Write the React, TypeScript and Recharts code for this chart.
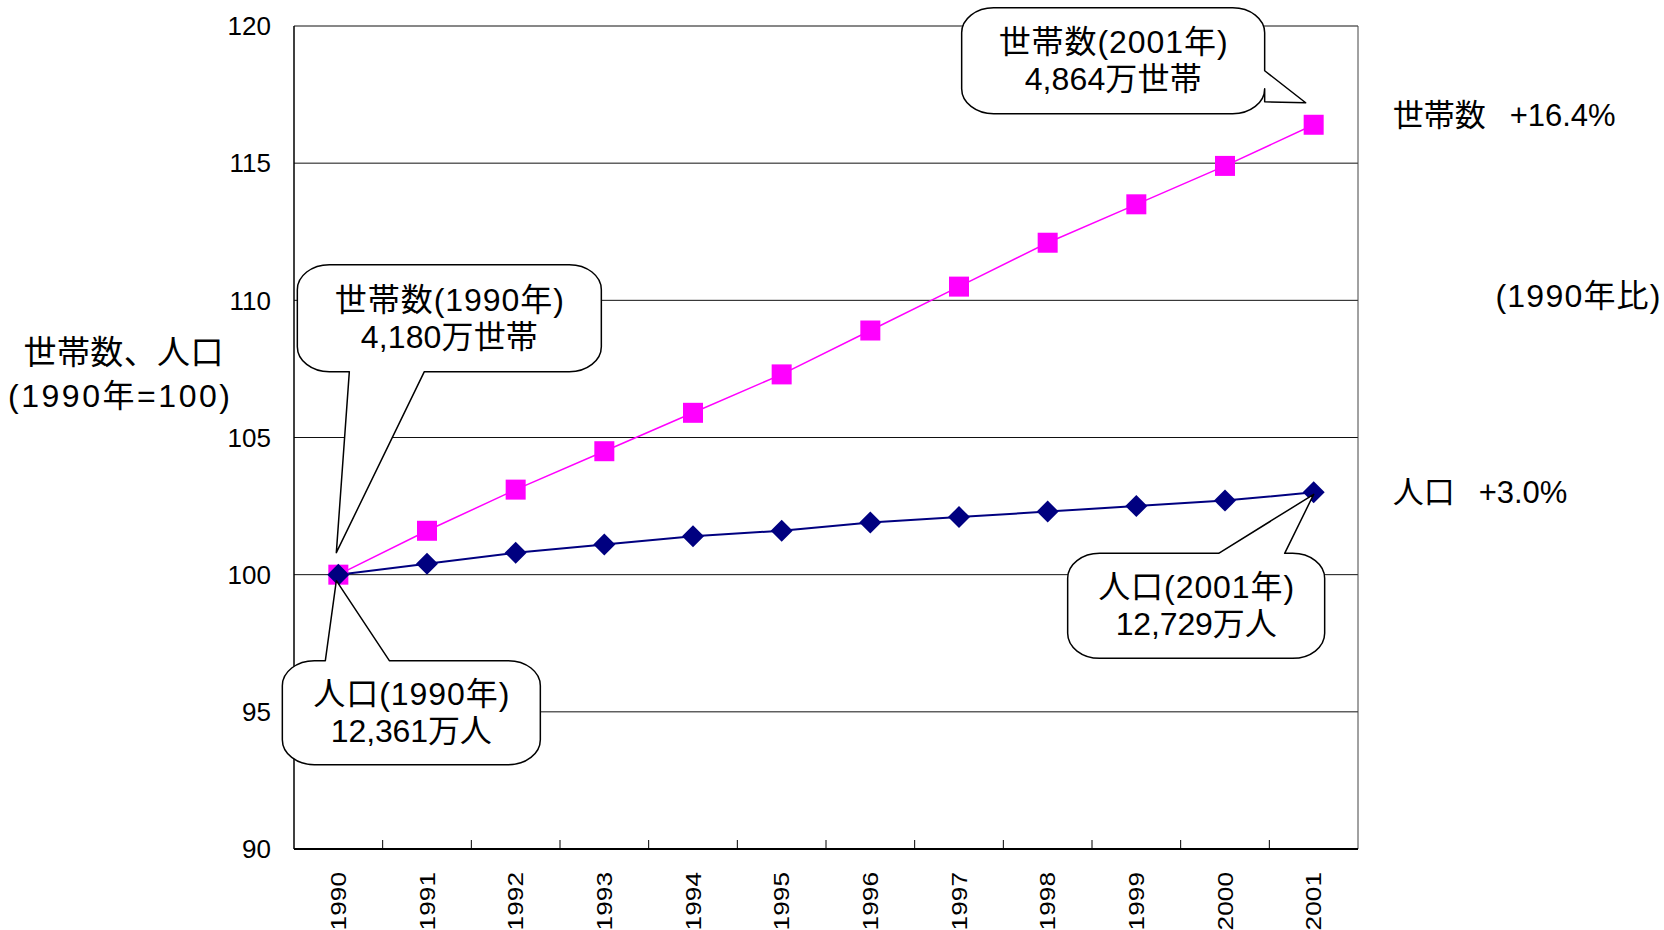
import React from "react";
import { LineChart, Line, XAxis, YAxis, CartesianGrid, ReferenceDot } from "recharts";

const years = ["1990", "1991", "1992", "1993", "1994", "1995", "1996", "1997", "1998", "1999", "2000", "2001"];
// index, 1990 = 100
const households = [100, 101.6, 103.1, 104.5, 105.9, 107.3, 108.9, 110.5, 112.1, 113.5, 114.9, 116.4];
const population = [100, 100.4, 100.8, 101.1, 101.4, 101.6, 101.9, 102.1, 102.3, 102.5, 102.7, 103.0];
const yTicks = [90, 95, 100, 105, 110, 115, 120];
// 1990 and 2001 totals (万世帯 / 万人)
const householdCounts = [4180, 4864];
const populationCounts = [12361, 12729];

const data = years.map((year, i) => ({ year, households: households[i], population: population[i] }));

const W = 1664;
const H = 930;
const MARGIN = { top: 26, right: 306, bottom: 0, left: 214 };
const Y_AXIS_W = 80;
const X_AXIS_H = 81;
const PLOT_W = W - MARGIN.left - Y_AXIS_W - MARGIN.right;
const BAND = PLOT_W / years.length;

const FONT = '"Liberation Sans", "Noto Sans CJK JP", sans-serif';
const MAGENTA = "#ff00ff";
const NAVY = "#000080";

const last = years.length - 1;
const fmt = (n: number) => n.toLocaleString("en-US");
const growth = (arr: number[]) => `+${(arr[last] - arr[0]).toFixed(1)}%`;

type Side = "top" | "bottom" | "right";
interface CalloutSpec {
  box: [number, number, number, number]; // dx, dy, w, h from the point
  side: Side;
  base: [number, number];
  tip: [number, number];
  lines: string[];
  widths: number[];
}

function calloutPath(cx: number, cy: number, s: CalloutSpec) {
  const [dx, dy, w, h] = s.box;
  const x = cx + dx;
  const y = cy + dy;
  const rx = 32;
  const ry = 25;
  const tx = cx + s.tip[0];
  const ty = cy + s.tip[1];
  let d = `M${x + rx},${y}`;
  if (s.side === "top") d += ` L${cx + s.base[0]},${y} L${tx},${ty} L${cx + s.base[1]},${y}`;
  d += ` L${x + w - rx},${y} A${rx},${ry} 0 0 1 ${x + w},${y + ry}`;
  if (s.side === "right") d += ` L${x + w},${cy + s.base[0]} L${tx},${ty} L${x + w},${cy + s.base[1]}`;
  d += ` L${x + w},${y + h - ry} A${rx},${ry} 0 0 1 ${x + w - rx},${y + h}`;
  if (s.side === "bottom") d += ` L${cx + s.base[1]},${y + h} L${tx},${ty} L${cx + s.base[0]},${y + h}`;
  d += ` L${x + rx},${y + h} A${rx},${ry} 0 0 1 ${x},${y + h - ry} L${x},${y + ry} A${rx},${ry} 0 0 1 ${x + rx},${y} Z`;
  return d;
}

function Callout({ cx, cy, spec }: { cx: number; cy: number; spec: CalloutSpec }) {
  const [dx, dy, w, h] = spec.box;
  const mx = cx + dx + w / 2;
  const my = cy + dy + h / 2;
  return (
    <g>
      <path d={calloutPath(cx, cy, spec)} fill="#fff" stroke="#000" strokeWidth={1.5} strokeLinejoin="round" />
      {spec.lines.map((t, i) => (
        <text
          key={i}
          x={mx}
          y={my + (i === 0 ? -18.5 : 18.5)}
          textAnchor="middle"
          dominantBaseline="central"
          fontSize={32}
          fontFamily={FONT}
          fill="#000"
          textLength={spec.widths[i]}
          lengthAdjust="spacing"
        >
          {t}
        </text>
      ))}
    </g>
  );
}

const callouts: { series: "households" | "population"; idx: number; spec: CalloutSpec }[] = [
  {
    series: "households",
    idx: 0,
    spec: {
      box: [-41, -310, 304, 107],
      side: "bottom",
      base: [11, 86],
      tip: [-2, -22],
      lines: [`世帯数(${years[0]}年)`, `${fmt(householdCounts[0])}万世帯`],
      widths: [229, 177],
    },
  },
  {
    series: "population",
    idx: 0,
    spec: {
      box: [-56, 86, 258, 104],
      side: "top",
      base: [-13, 51],
      tip: [-2, 6],
      lines: [`人口(${years[0]}年)`, `${fmt(populationCounts[0])}万人`],
      widths: [196, 161],
    },
  },
  {
    series: "households",
    idx: last,
    spec: {
      box: [-352, -117, 303, 106],
      side: "right",
      base: [-54, -23],
      tip: [-8, -22],
      lines: [`世帯数(${years[last]}年)`, `${fmt(householdCounts[1])}万世帯`],
      widths: [229, 177],
    },
  },
  {
    series: "population",
    idx: last,
    spec: {
      box: [-246, 61, 257, 105],
      side: "top",
      base: [-95, -29],
      tip: [0, 2],
      lines: [`人口(${years[last]}年)`, `${fmt(populationCounts[1])}万人`],
      widths: [196, 161],
    },
  },
];

const SquareDot = ({ cx, cy }: { cx: number; cy: number }) => (
  <rect x={cx - 10} y={cy - 10} width={20} height={20} fill={MAGENTA} />
);

const DiamondDot = ({ cx, cy }: { cx: number; cy: number }) => (
  <path d={`M${cx},${cy - 11} L${cx + 11},${cy} L${cx},${cy + 11} L${cx - 11},${cy} Z`} fill={NAVY} />
);

const XTick = (props: any) => {
  const { x, y, payload, index } = props;
  return (
    <g>
      {index > 0 && <line x1={x - BAND / 2} x2={x - BAND / 2} y1={y} y2={y - 9} stroke="#000" strokeWidth={1} />}
      <text
        transform={`translate(${x},${y + 23}) rotate(-90) scale(1.05,0.9)`}
        textAnchor="end"
        dominantBaseline="central"
        fontSize={25}
        fontFamily={FONT}
        fill="#000"
      >
        {payload.value}
      </text>
    </g>
  );
};

// series name + change since 1990, written to the right of the last point
const EndLabel = ({ cx, cy, dy, name, value }: { cx: number; cy: number; dy: number; name: string; value: string }) => (
  <text x={cx + 79} y={cy + dy} dominantBaseline="central" fontSize={31} fontFamily={FONT} fill="#000">
    <tspan>{name}</tspan>
    <tspan dx={24}>{value}</tspan>
  </text>
);

const seriesValues = { households, population };

export default function App() {
  return (
    <div style={{ position: "absolute", left: 0, top: 0, width: W, height: H, background: "#fff" }}>
      <LineChart width={W} height={H} data={data} margin={MARGIN}>
        <CartesianGrid vertical={false} stroke="#111" strokeWidth={1} />
        <CartesianGrid
          horizontal={false}
          stroke="#444"
          strokeWidth={1}
          verticalCoordinatesGenerator={({ offset }: any) => [offset.left + offset.width]}
        />
        <XAxis
          dataKey="year"
          interval={0}
          height={X_AXIS_H}
          padding={{ left: BAND / 2, right: BAND / 2 }}
          tickLine={false}
          tickSize={0}
          tickMargin={0}
          axisLine={{ stroke: "#000", strokeWidth: 2 }}
          tick={<XTick />}
        />
        <YAxis
          width={Y_AXIS_W}
          domain={[90, 120]}
          ticks={yTicks}
          interval={0}
          tickLine={false}
          tickSize={0}
          tickMargin={23}
          axisLine={{ stroke: "#000", strokeWidth: 1.5 }}
          tick={{ fontSize: 26, fill: "#000", fontFamily: FONT }}
        />
        <Line
          dataKey="households"
          stroke={MAGENTA}
          strokeWidth={1.5}
          isAnimationActive={false}
          activeDot={false}
          dot={(p: any) => <SquareDot key={`h-${p.index}`} cx={p.cx} cy={p.cy} />}
        />
        <Line
          dataKey="population"
          stroke={NAVY}
          strokeWidth={2}
          isAnimationActive={false}
          activeDot={false}
          dot={(p: any) => <DiamondDot key={`p-${p.index}`} cx={p.cx} cy={p.cy} />}
        />
        {callouts.map((c, i) => (
          <ReferenceDot
            key={`c-${i}`}
            x={years[c.idx]}
            y={seriesValues[c.series][c.idx]}
            r={0}
            ifOverflow="visible"
            shape={(p: any) => <Callout cx={p.cx} cy={p.cy} spec={c.spec} />}
          />
        ))}
        <ReferenceDot
          x={years[last]}
          y={households[last]}
          r={0}
          ifOverflow="visible"
          shape={(p: any) => <EndLabel cx={p.cx} cy={p.cy} dy={-10} name="世帯数" value={growth(households)} />}
        />
        <ReferenceDot
          x={years[last]}
          y={population[last]}
          r={0}
          ifOverflow="visible"
          shape={(p: any) => <EndLabel cx={p.cx} cy={p.cy} dy={0} name="人口" value={growth(population)} />}
        />
      </LineChart>
      <svg
        width={W}
        height={H}
        style={{ position: "absolute", left: 0, top: 0, pointerEvents: "none" }}
        fontFamily={FONT}
      >
        <text x={123.5} y={352} textAnchor="middle" dominantBaseline="central" fontSize={33} textLength={200} lengthAdjust="spacing">
          世帯数、人口
        </text>
        <text x={119} y={396} textAnchor="middle" dominantBaseline="central" fontSize={32} textLength={222} lengthAdjust="spacing">
          (1990年=100)
        </text>
        <text x={1578} y={296} textAnchor="middle" dominantBaseline="central" fontSize={32} textLength={165} lengthAdjust="spacing">
          (1990年比)
        </text>
      </svg>
    </div>
  );
}
